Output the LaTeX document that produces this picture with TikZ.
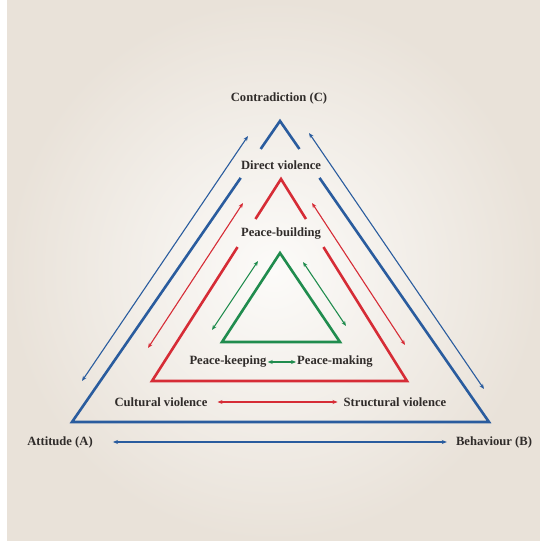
\documentclass[tikz,border=0pt]{standalone}
\usepackage{fontspec}
\setmainfont{Liberation Serif}
\usepackage{xcolor}
\usetikzlibrary{arrows.meta,positioning,calc}
\definecolor{conflict}{RGB}{42,92,158}
\definecolor{violence}{RGB}{214,44,54}
\definecolor{peace}{RGB}{32,140,78}
\definecolor{ink}{RGB}{48,44,42}
\definecolor{bgin}{RGB}{252,251,249}
\definecolor{bgout}{RGB}{233,226,217}

\begin{document}
\begin{tikzpicture}[x=1pt,y=-1pt,
    lbl/.style={font=\fontsize{12.6}{14}\selectfont\bfseries,text=ink,inner sep=1pt},
    tri/.style={line width=2.6pt,line cap=butt,line join=miter},
    link/.style={line width=1.1pt,{Stealth[length=5pt,width=4pt]}-{Stealth[length=5pt,width=4pt]}}]
  \useasboundingbox (0,0) rectangle (540,541);
  \fill[white] (0,0) rectangle (540,541);
  \shade[inner color=bgin,outer color=bgout] (7,0) rectangle (540,541);

  % corners of the three triangles
  \coordinate (ct) at (280,121);
  \coordinate (cl) at (72,422);
  \coordinate (cr) at (489,422);
  \coordinate (vt) at (281,179);
  \coordinate (vl) at (152,381);
  \coordinate (vr) at (407,381);
  \coordinate (pt) at (280,253);
  \coordinate (pl) at (222,342);
  \coordinate (pr) at (340,342);

  \draw[conflict,tri] ($(ct)!0.093!(cl)$) -- (ct) -- ($(ct)!0.093!(cr)$);
  \draw[conflict,tri] ($(ct)!0.189!(cl)$) -- (cl) -- (cr) -- ($(ct)!0.189!(cr)$);
  \draw[violence,tri] ($(vt)!0.198!(vl)$) -- (vt) -- ($(vt)!0.198!(vr)$);
  \draw[violence,tri] ($(vt)!0.337!(vl)$) -- (vl) -- (vr) -- ($(vt)!0.337!(vr)$);
  \draw[peace,tri] (pt) -- (pl) -- (pr) -- cycle;

  \node[lbl] (contr) at (279,98) {Contradiction (C)};
  \node[lbl] (direct) at (281,165) {Direct violence};
  \node[lbl] (build) at (281,234) {Peace-building};
  \node[lbl] (keep) at (228,362) {Peace-keeping};
  \node[lbl] (make) at (335,362) {Peace-making};
  \node[lbl] (cult) at (161,402) {Cultural violence};
  \node[lbl] (struct) at (395,402) {Structural violence};
  \node[lbl] (att) at (60,442) {Attitude (A)};
  \node[lbl] (beh) at (494,442) {Behaviour (B)};

  % ends of the slanted arrows
  \coordinate (ca1) at (248,136);
  \coordinate (ca2) at (82,381);
  \coordinate (cb1) at (309,133);
  \coordinate (cb2) at (484,389);
  \coordinate (va1) at (243,203);
  \coordinate (va2) at (148,348);
  \coordinate (vb1) at (312,203);
  \coordinate (vb2) at (405,345);
  \coordinate (pa1) at (258,261);
  \coordinate (pa2) at (212,330);
  \coordinate (pb1) at (303,262);
  \coordinate (pb2) at (346,326);

  \draw[conflict,link] (ca1) -- (ca2);
  \draw[conflict,link] (cb1) -- (cb2);
  \draw[violence,link] (va1) -- (va2);
  \draw[violence,link] (vb1) -- (vb2);
  \draw[peace,link] (pa1) -- (pa2);
  \draw[peace,link] (pb1) -- (pb2);

  \draw[conflict,link] ([xshift=19pt]att.east) -- ([xshift=-8pt]beh.west);
  \draw[violence,link] ([xshift=9pt]cult.east) -- ([xshift=-5pt]struct.west);
  \draw[peace,link] (keep.east) -- (make.west);
\end{tikzpicture}
\end{document}
